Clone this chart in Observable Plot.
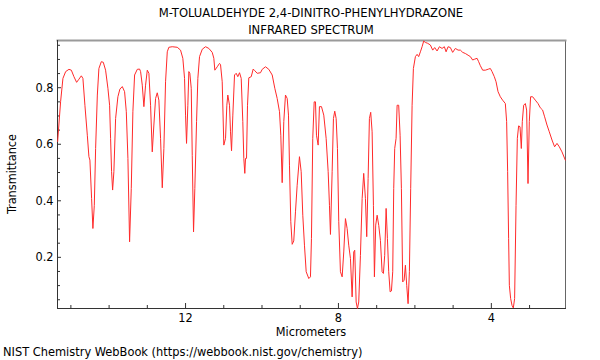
<!DOCTYPE html>
<html><head><meta charset="utf-8">
<script src="https://cdn.jsdelivr.net/npm/d3@7"></script>
<script src="https://cdn.jsdelivr.net/npm/@observablehq/plot@0.6"></script>
<style>
body{margin:0;background:#fff;}
#wrap{position:relative;width:600px;height:360px;font-family:"DejaVu Sans Condensed","DejaVu Sans",sans-serif;color:#000;}
#wrap svg{position:absolute;left:0;top:0;}
.lbl{position:absolute;white-space:nowrap;font-size:12.6px;line-height:14px;}
</style>
</head><body>
<div id="wrap">
  <div class="lbl" id="t1" style="left:0;width:622px;text-align:center;top:6px;font-size:12.9px;">M-TOLUALDEHYDE 2,4-DINITRO-PHENYLHYDRAZONE</div>
  <div class="lbl" id="t2" style="left:0;width:622px;text-align:center;top:23px;font-size:12.9px;">INFRARED SPECTRUM</div>
  <div class="lbl" id="xl" style="left:0;width:622px;text-align:center;top:325px;">Micrometers</div>
  <div class="lbl" id="yl" style="left:12px;top:174px;transform:translate(-50%,-50%) rotate(-90deg);">Transmittance</div>
  <div class="lbl" id="cap" style="left:3px;top:345px;font-size:12.7px;">NIST Chemistry WebBook (https://webbook.nist.gov/chemistry)</div>
</div>
<script>
const wavelength = [15.346,15.268,15.208,15.137,15.051,14.988,14.920,14.850,14.790,14.727,14.685,14.633,14.570,14.528,14.502,14.458,14.424,14.387,14.353,14.308,14.267,14.204,14.152,14.092,14.031,13.987,13.961,13.935,13.908,13.875,13.830,13.770,13.718,13.655,13.595,13.550,13.508,13.464,13.420,13.378,13.333,13.263,13.203,13.176,13.132,13.090,13.046,13.001,12.959,12.915,12.871,12.829,12.784,12.740,12.698,12.654,12.609,12.567,12.523,12.478,12.437,12.348,12.217,12.131,12.071,12.026,12.000,11.974,11.940,11.914,11.888,11.851,11.825,11.791,11.757,11.712,11.678,11.634,11.563,11.477,11.391,11.302,11.260,11.234,11.171,11.111,11.085,11.041,10.999,10.954,10.920,10.894,10.850,10.824,10.797,10.763,10.719,10.675,10.633,10.588,10.544,10.502,10.476,10.450,10.431,10.405,10.379,10.345,10.282,10.230,10.188,10.125,10.039,9.995,9.908,9.822,9.733,9.665,9.603,9.542,9.508,9.472,9.430,9.386,9.341,9.307,9.281,9.247,9.210,9.169,9.124,9.080,9.020,8.975,8.933,8.889,8.844,8.776,8.732,8.706,8.672,8.635,8.601,8.575,8.531,8.497,8.444,8.384,8.322,8.269,8.235,8.209,8.165,8.131,8.097,8.060,8.026,7.992,7.948,7.903,7.861,7.817,7.773,7.731,7.686,7.642,7.600,7.574,7.537,7.503,7.469,7.425,7.380,7.339,7.294,7.260,7.224,7.190,7.156,7.119,7.085,7.059,7.025,6.988,6.946,6.902,6.858,6.824,6.790,6.753,6.719,6.685,6.648,6.614,6.580,6.554,6.528,6.492,6.465,6.424,6.387,6.353,6.319,6.282,6.248,6.214,6.178,6.144,6.110,6.073,6.039,5.987,5.942,5.901,5.856,5.812,5.770,5.725,5.665,5.595,5.534,5.482,5.420,5.359,5.289,5.229,5.184,5.132,5.072,5.012,4.941,4.871,4.810,4.750,4.680,4.609,4.549,4.489,4.436,4.374,4.332,4.288,4.227,4.157,4.071,4.026,3.982,3.922,3.877,3.825,3.765,3.705,3.634,3.600,3.574,3.548,3.529,3.495,3.459,3.425,3.391,3.354,3.320,3.286,3.250,3.216,3.190,3.155,3.111,3.077,3.041,3.007,2.973,2.920,2.850,2.779,2.719,2.659,2.606,2.544,2.484,2.413,2.345,2.282,2.222,2.152,2.065];
const transmittance = [0.610,0.752,0.833,0.857,0.865,0.862,0.839,0.819,0.830,0.842,0.833,0.738,0.632,0.556,0.544,0.408,0.302,0.384,0.585,0.774,0.868,0.892,0.890,0.862,0.798,0.738,0.621,0.503,0.438,0.503,0.691,0.768,0.795,0.804,0.786,0.715,0.550,0.255,0.444,0.715,0.845,0.865,0.866,0.857,0.809,0.733,0.809,0.862,0.851,0.738,0.573,0.668,0.762,0.782,0.756,0.621,0.446,0.585,0.821,0.927,0.943,0.945,0.943,0.933,0.904,0.833,0.703,0.603,0.738,0.857,0.851,0.798,0.561,0.290,0.444,0.680,0.833,0.910,0.936,0.945,0.939,0.925,0.904,0.862,0.874,0.886,0.882,0.821,0.597,0.621,0.738,0.774,0.738,0.644,0.577,0.703,0.845,0.851,0.839,0.853,0.833,0.680,0.550,0.497,0.550,0.550,0.738,0.835,0.839,0.866,0.860,0.851,0.853,0.865,0.874,0.865,0.845,0.798,0.762,0.715,0.632,0.464,0.680,0.774,0.762,0.703,0.526,0.326,0.246,0.258,0.361,0.455,0.556,0.503,0.349,0.243,0.149,0.125,0.131,0.267,0.621,0.750,0.750,0.632,0.597,0.733,0.733,0.703,0.621,0.503,0.384,0.281,0.503,0.691,0.717,0.691,0.585,0.326,0.149,0.131,0.219,0.337,0.302,0.243,0.196,0.060,0.219,0.225,0.042,0.019,0.042,0.207,0.408,0.497,0.408,0.273,0.479,0.691,0.713,0.644,0.384,0.131,0.314,0.349,0.313,0.260,0.149,0.143,0.207,0.373,0.267,0.149,0.078,0.081,0.149,0.444,0.585,0.621,0.738,0.738,0.632,0.444,0.113,0.119,0.172,0.101,0.036,0.149,0.444,0.738,0.868,0.910,0.918,0.910,0.927,0.945,0.965,0.960,0.957,0.951,0.933,0.942,0.930,0.945,0.939,0.945,0.927,0.945,0.942,0.925,0.939,0.933,0.933,0.925,0.921,0.915,0.910,0.898,0.901,0.904,0.892,0.878,0.862,0.862,0.866,0.868,0.857,0.839,0.821,0.786,0.768,0.756,0.744,0.680,0.503,0.267,0.101,0.054,0.030,0.021,0.054,0.384,0.621,0.665,0.662,0.585,0.680,0.738,0.744,0.721,0.461,0.680,0.768,0.768,0.756,0.744,0.729,0.721,0.697,0.668,0.644,0.615,0.591,0.603,0.591,0.573,0.544];
const xMajor = [12, 8, 4];
const xMinor = [15, 14, 13, 11, 10, 9, 7, 6, 5, 3];
const yMajor = [0.2, 0.4, 0.6, 0.8];
const yMinor = [0.05, 0.1, 0.15, 0.25, 0.3, 0.35, 0.45, 0.5, 0.55, 0.65, 0.7, 0.75, 0.85, 0.9, 0.95];

const spectrum = wavelength.map((w, i) => ({w, t: transmittance[i]}));

const chart = Plot.plot({
  width: 600,
  height: 360,
  marginLeft: 57,
  marginRight: 35,
  marginTop: 40,
  marginBottom: 52,
  style: {fontFamily: '"DejaVu Sans Condensed","DejaVu Sans",sans-serif', fontSize: "12.6px", color: "#000", background: "transparent", overflow: "visible"},
  x: {domain: [15.35, 2.06], label: null},
  y: {domain: [0.019, 0.967], label: null},
  marks: [
    Plot.frame({stroke: "#666", strokeWidth: 1}),
    Plot.frame({anchor: "top", stroke: "#9a9a9a", strokeWidth: 2}),
    Plot.frame({anchor: "left", stroke: "#333", strokeWidth: 1}),
    Plot.frame({anchor: "bottom", stroke: "#333", strokeWidth: 1}),
    Plot.axisX({ticks: xMinor, tickSize: -3, text: null, label: null, stroke: "#333"}),
    Plot.axisX({ticks: xMajor, tickSize: -5, text: null, label: null, stroke: "#333"}),
    Plot.axisX({ticks: xMajor, tickSize: 0, tickPadding: 5, tickFormat: d => String(d), label: null, fill: "#000"}),
    Plot.axisY({ticks: yMinor, tickSize: -3, text: null, label: null, stroke: "#333"}),
    Plot.axisY({ticks: yMajor, tickSize: -4, text: null, label: null, stroke: "#333"}),
    Plot.axisY({ticks: yMajor, tickSize: 0, tickPadding: 4, tickFormat: d => d.toFixed(1), label: null, fill: "#000"}),
    Plot.line(spectrum, {x: "w", y: "t", stroke: "#ff2a2a", strokeWidth: 1})
  ]
});
document.getElementById("wrap").prepend(chart);
</script>
</body></html>
